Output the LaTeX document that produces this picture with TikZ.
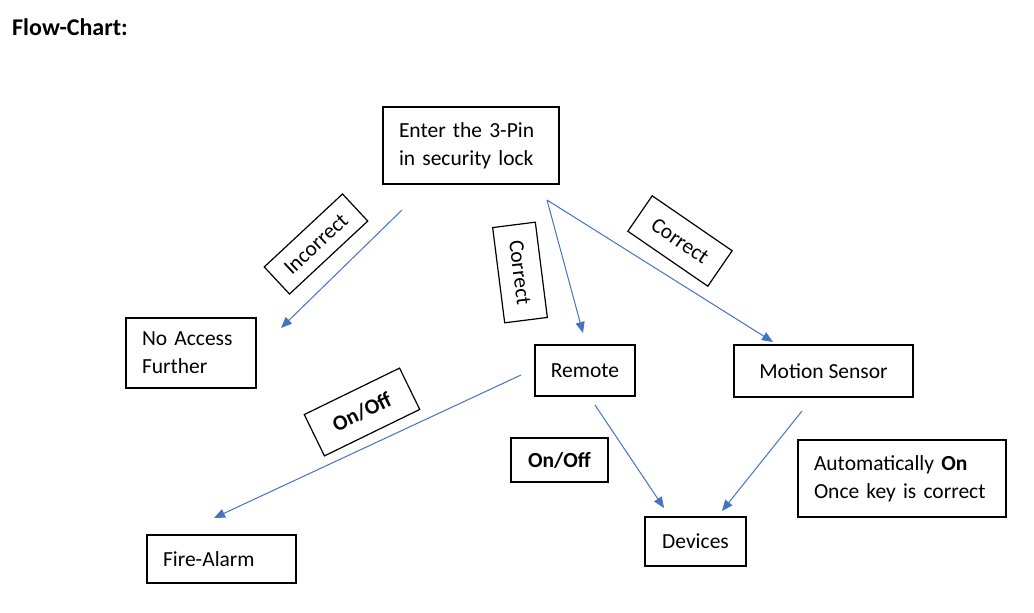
\documentclass[tikz,border=0pt]{standalone}
\usepackage{fontspec}
\setmainfont{Carlito}
\usetikzlibrary{arrows.meta}
\definecolor{arrowblue}{HTML}{4472C4}
\tikzset{
  box/.style={draw=black, line width=1.2pt, inner sep=0pt, font=\fontsize{21.5}{28}\selectfont},
  lbox/.style={box, align=left},
  tag/.style={draw=black, line width=1.2pt, inner sep=0pt, font=\fontsize{21.5}{28}\selectfont},
  conn/.style={draw=arrowblue, line width=1pt, -{Triangle[length=11pt,width=9pt]}},
}
\begin{document}
\begin{tikzpicture}[x=1pt,y=-1pt]
\useasboundingbox[fill=white] (0,0) rectangle (1034,613);
\node[anchor=west, inner sep=0pt, font=\fontsize{24}{28}\selectfont\bfseries] (title) at (12,27) {Flow-Chart:};

\node[lbox, minimum width=176pt, minimum height=77pt, text width=144pt] (pin) at (471,145.5) {Enter the 3-Pin\\in security lock};
\node[lbox, minimum width=130pt, minimum height=70pt, text width=98pt] (noacc) at (191,353) {No Access\\Further};
\node[box, minimum width=100pt, minimum height=51pt] (remote) at (585,370.5) {Remote};
\node[box, minimum width=179pt, minimum height=52pt] (motion) at (823.5,371) {Motion Sensor};
\node[box, minimum width=101pt, minimum height=49pt] (devices) at (695.5,541.5) {Devices};
\node[lbox, minimum width=149pt, minimum height=48pt, text width=117pt] (fire) at (221.5,559) {Fire-Alarm};
\node[lbox, minimum width=208pt, minimum height=77pt, text width=176pt] (auto) at (902,478.5) {Automatically \textbf{On}\\Once key is correct};
\node[box, minimum width=97pt, minimum height=44pt, font=\fontsize{21.5}{28}\selectfont\bfseries] (onoff1) at (559.5,460) {On/Off};

\node[tag, minimum width=107pt, minimum height=37pt, rotate=43] (incorrect) at (316,244) {Incorrect};
\node[tag, minimum width=96pt, minimum height=43pt, rotate=-82.8] (correct1) at (520,272.5) {Correct};
\node[tag, minimum width=97pt, minimum height=43pt, rotate=-34.5] (correct2) at (680,241) {Correct};
\node[tag, minimum width=106pt, minimum height=46pt, rotate=26, font=\fontsize{21.5}{28}\selectfont\bfseries] (onoff2) at (362,412) {On/Off};

\coordinate (a1) at (402,210);
\coordinate (a1e) at (281,328);
\coordinate (a2) at (547,200);
\coordinate (a2e) at (583,333);
\coordinate (a3e) at (773,342);
\coordinate (a4) at (521,375);
\coordinate (a4e) at (214,518);
\coordinate (a5) at (595,405);
\coordinate (a5e) at (664,508);
\coordinate (a6) at (802,411);
\coordinate (a6e) at (722,511);

\draw[conn] (a1) -- (a1e);
\draw[conn] (a2) -- (a2e);
\draw[conn] (a2) -- (a3e);
\draw[conn] (a4) -- (a4e);
\draw[conn] (a5) -- (a5e);
\draw[conn] (a6) -- (a6e);
\end{tikzpicture}
\end{document}
